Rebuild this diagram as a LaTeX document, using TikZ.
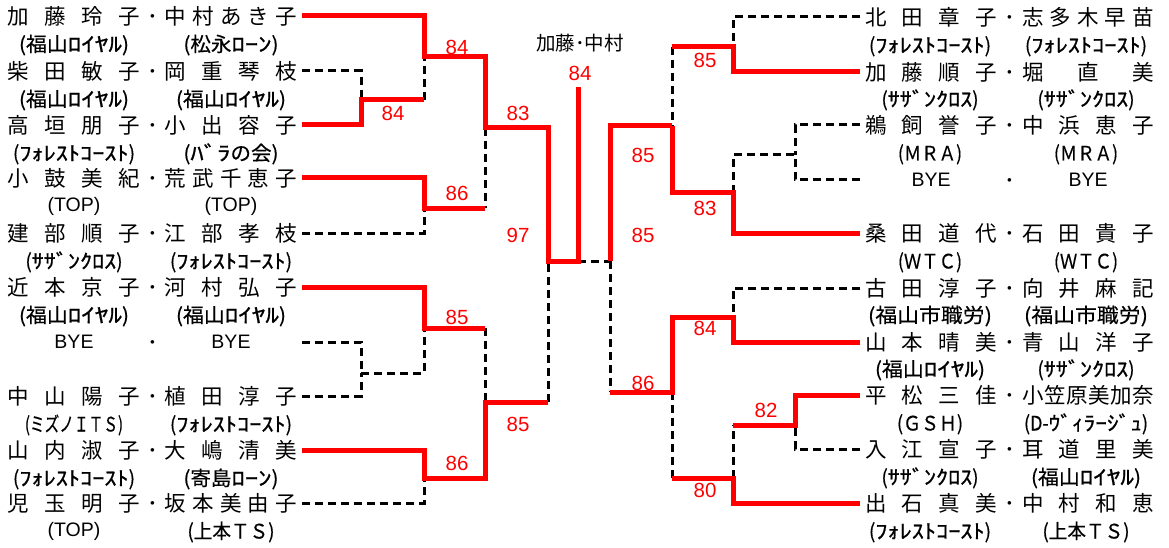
\documentclass[tikz,border=0pt]{standalone}
\usepackage{fontspec}
\usepackage{graphicx}
\setmainfont{Liberation Sans}
\newfontfamily\jpfont{Noto Sans CJK JP}
\newfontfamily\hkfont[FakeStretch=1.3, FakeBold=1.0]{Noto Sans CJK JP}
\newfontfamily\affjp[FakeBold=0.4]{Noto Sans CJK JP}
\newcommand\namefont{\jpfont\fontsize{21.5}{24}\selectfont}
\newcommand\affont{\affjp\fontsize{20}{22}\selectfont}
\newcommand\latfont{\normalfont\fontsize{19.5}{22}\selectfont}
\newcommand\scorefont{\normalfont\fontsize{20.5}{24}\selectfont}
\newcommand\hk[1]{{\hkfont #1}}
\newcommand\ndot{\makebox[25pt]{･}}
\newlength\fitlen
\newcommand\fitto[2]{\settowidth\fitlen{#2}\pgfmathsetmacro\fitfac{#1/\fitlen}\scalebox{\fitfac}[1]{#2}}
\makeatletter
\newcommand\spreadtext[2]{\makebox[#1][s]{\spr@first#2\relax}}
\def\spr@first#1{#1\spr@loop}
\def\spr@loop#1{\ifx\relax#1\else\hfil#1\expandafter\spr@loop\fi}
\makeatother
\newcommand\pairtext[2]{\spreadtext{132pt}{#1}\ndot\spreadtext{132pt}{#2}}
\newcommand\byebox{\makebox[132pt]{\latfont\raisebox{1.4pt}{BYE}}}
\newcommand\affFY{\fitto{110}{(福山\hk{ﾛｲﾔﾙ})}}
\newcommand\affFC{\fitto{122}{(\hk{ﾌｫﾚｽﾄｺｰｽﾄ})}}
\newcommand\affSC{\fitto{97}{(\hk{ｻｻﾞﾝｸﾛｽ})}}
\newcommand\affUT{\fitto{87}{(上本ＴＳ)}}
\newcommand\affFS{\fitto{124}{(福山市職労)}}
\begin{document}
\begin{tikzpicture}[x=1pt,y=-1pt,
  redline/.style={draw=red, line width=5pt},
  dashline/.style={draw=black, line width=3pt, dash pattern=on 8pt off 5pt},
  pair/.style={inner sep=0pt, outer xsep=5pt, text height=16.4pt, text depth=0pt, font=\namefont},
  aff/.style={inner sep=0pt, text height=15pt, text depth=0pt, font=\affont},
  lataff/.style={inner sep=0pt, font=\latfont},
  score/.style={inner sep=0pt, text=red, font=\scorefont}]
\useasboundingbox (0,0) rectangle (1169,548);
\fill[white] (0,0) rectangle (1169,548);

% ---------- left players ----------
\node[pair, anchor=east] (L1) at (302,16) {\pairtext{加藤玲子}{中村あき子}};
\node[aff] (L1a) at (74,44) {\affFY};
\node[aff] (L1b) at (231,44) {\fitto{95}{(松永\hk{ﾛｰﾝ})}};
\node[pair, anchor=east] (L2) at (302,71) {\pairtext{柴田敏子}{岡重琴枝}};
\node[aff] (L2a) at (74,99) {\affFY};
\node[aff] (L2b) at (231,99) {\affFY};
\node[pair, anchor=east] (L3) at (302,125) {\pairtext{高垣朋子}{小出容子}};
\node[aff] (L3a) at (74,153) {\affFC};
\node[aff] (L3b) at (231,153) {\fitto{95}{(\hk{ﾊﾞﾗ}の会)}};
\node[pair, anchor=east] (L4) at (302,178) {\pairtext{小鼓美紀}{荒武千恵子}};
\node[lataff] (L4a) at (74,206) {(TOP)};
\node[lataff] (L4b) at (231,206) {(TOP)};
\node[pair, anchor=east] (L5) at (302,233) {\pairtext{建部順子}{江部孝枝}};
\node[aff] (L5a) at (74,261) {\affSC};
\node[aff] (L5b) at (231,261) {\affFC};
\node[pair, anchor=east] (L6) at (302,287) {\pairtext{近本京子}{河村弘子}};
\node[aff] (L6a) at (74,315) {\affFY};
\node[aff] (L6b) at (231,315) {\affFY};
\node[pair, anchor=east] (L7) at (302,342) {\byebox\ndot\byebox};
\node[pair, anchor=east] (L8) at (302,396) {\pairtext{中山陽子}{植田淳子}};
\node[aff] (L8a) at (74,424) {\fitto{98}{(ミズノＩＴＳ)}};
\node[aff] (L8b) at (231,424) {\affFC};
\node[pair, anchor=east] (L9) at (302,450) {\pairtext{山内淑子}{大嶋清美}};
\node[aff] (L9a) at (74,478) {\affFC};
\node[aff] (L9b) at (231,478) {\fitto{95}{(寄島\hk{ﾛｰﾝ})}};
\node[pair, anchor=east] (L10) at (302,503) {\pairtext{児玉明子}{坂本美由子}};
\node[lataff] (L10a) at (74,531) {(TOP)};
\node[aff] (L10b) at (231,531) {\affUT};

% ---------- right players ----------
\node[pair, anchor=west] (R1) at (860,17) {\pairtext{北田章子}{志多木早苗}};
\node[aff] (R1a) at (930,45) {\affFC};
\node[aff] (R1b) at (1086,45) {\affFC};
\node[pair, anchor=west] (R2) at (860,72) {\pairtext{加藤順子}{堀直美}};
\node[aff] (R2a) at (930,99) {\affSC};
\node[aff] (R2b) at (1086,99) {\affSC};
\node[pair, anchor=west] (R3) at (860,125) {\pairtext{鵜飼誉子}{中浜恵子}};
\node[aff] (R3a) at (930,153) {\fitto{64}{(ＭＲＡ)}};
\node[aff] (R3b) at (1086,153) {\fitto{64}{(ＭＲＡ)}};
\node[pair, anchor=west] (R4) at (860,180) {\byebox\ndot\byebox};
\node[pair, anchor=west] (R5) at (860,233) {\pairtext{桑田道代}{石田貴子}};
\node[aff] (R5a) at (930,261) {\fitto{64}{(ＷＴＣ)}};
\node[aff] (R5b) at (1086,261) {\fitto{64}{(ＷＴＣ)}};
\node[pair, anchor=west] (R6) at (860,288) {\pairtext{古田淳子}{向井麻記}};
\node[aff] (R6a) at (930,315) {\affFS};
\node[aff] (R6b) at (1086,315) {\affFS};
\node[pair, anchor=west] (R7) at (860,342) {\pairtext{山本晴美}{青山洋子}};
\node[aff] (R7a) at (930,369) {\affFY};
\node[aff] (R7b) at (1086,369) {\affSC};
\node[pair, anchor=west] (R8) at (860,395) {\pairtext{平松三佳}{小笠原美加奈}};
\node[aff] (R8a) at (930,423) {\fitto{66}{(ＧＳＨ)}};
\node[aff] (R8b) at (1086,423) {\fitto{124}{(D-\hk{ｳﾞｨﾗｰｼﾞｭ})}};
\node[pair, anchor=west] (R9) at (860,449) {\pairtext{入江宣子}{耳道里美}};
\node[aff] (R9a) at (930,477) {\affSC};
\node[aff] (R9b) at (1086,477) {\affFY};
\node[pair, anchor=west] (R10) at (860,503) {\pairtext{出石真美}{中村和恵}};
\node[aff] (R10a) at (930,531) {\affFC};
\node[aff] (R10b) at (1086,531) {\affUT};

% ---------- winner ----------
\node[inner sep=0pt, font=\jpfont\fontsize{19.5}{22}\selectfont] (W) at (580,43) {加藤･中村};

% ---------- junctions ----------
\coordinate (m1) at (361,100);
\coordinate (m2) at (424,57);
\coordinate (m3) at (424,208);
\coordinate (m4) at (485,128);
\coordinate (m5) at (548,261);
\coordinate (m6) at (361,373);
\coordinate (m7) at (424,328);
\coordinate (m8) at (424,478);
\coordinate (m9) at (485,402);
\coordinate (f) at (578,87);
\coordinate (n1) at (733,47);
\coordinate (n2) at (795,155);
\coordinate (n3) at (733,193);
\coordinate (n4) at (672,126);
\coordinate (n5) at (733,317);
\coordinate (n6) at (795,425);
\coordinate (n7) at (733,478);
\coordinate (n8) at (672,392);
\coordinate (n9) at (610,261);

% ---------- dashed (losers) ----------
\draw[dashline] (L2.east) -| (m1);
\draw[dashline] (m1 -| m2) -- (m2);
\draw[dashline] (m4) -- (m4 |- m3);
\draw[dashline] (L5.east) -| (m3);
\draw[dashline] (L7.east) -| (m6);
\draw[dashline] (L8.east) -| (m6);
\draw[dashline] (m6) -- (m6 -| m7) -- (m7);
\draw[dashline] (m7 -| m9) -- (m9);
\draw[dashline] (m9 -| m5) -- (m5);
\draw[dashline] (L10.east) -| (m8);
\draw[dashline] (m5 -| f) -- (n9);
\draw[dashline] (R1.west) -| (n1);
\draw[dashline] (n1 -| n4) -- (n4);
\draw[dashline] (n3) -- (n3 |- n2) -- (n2);
\draw[dashline] (R3.west) -| (n2);
\draw[dashline] (R4.west) -| (n2);
\draw[dashline] (n9) -- (n9 |- n8);
\draw[dashline] (R6.west) -| (n5);
\draw[dashline] (n8) -- (n8 |- n7);
\draw[dashline] (n7) -- (n7 |- n6);
\draw[dashline] (R9.west) -| (n6);

% ---------- red (winners) ----------
\draw[redline] (L3.east) -| (m1) -- (m1 -| m2);
\draw[redline] (L1.east) -| (m2) -- (m2 -| m4) -- (m4) -- (m4 -| m5) -- (m5) -- (m5 -| f) -- (f);
\draw[redline] (L4.east) -| (m3) -- (m4 |- m3);
\draw[redline] (L6.east) -| (m7) -- (m7 -| m9);
\draw[redline] (L9.east) -| (m8) -- (m8 -| m9) -- (m9) -- (m9 -| m5);
\draw[redline] (n9) -- (n9 |- n4) -- (n4);
\draw[redline] (R2.west) -| (n1) -- (n1 -| n4);
\draw[redline] (n4) -- (n4 |- n3) -- (n3) |- (R5.west);
\draw[redline] (n9 |- n8) -- (n8) -- (n8 |- n5) -- (n5) |- (R7.west);
\draw[redline] (n8 |- n7) -- (n7) |- (R10.west);
\draw[redline] (n7 |- n6) -- (n6) |- (R8.west);

% ---------- scores ----------
\node[score] (s1) at (457,47) {84};
\node[score] (s2) at (393,113) {84};
\node[score] (s3) at (518,113) {83};
\node[score] (s4) at (457,193) {86};
\node[score] (s5) at (518,235) {97};
\node[score] (s6) at (580,73) {84};
\node[score] (s7) at (457,317) {85};
\node[score] (s8) at (518,424) {85};
\node[score] (s9) at (457,463) {86};
\node[score] (s10) at (705,60) {85};
\node[score] (s11) at (643,155) {85};
\node[score] (s12) at (643,235) {85};
\node[score] (s13) at (705,208) {83};
\node[score] (s14) at (705,328) {84};
\node[score] (s15) at (643,383) {86};
\node[score] (s16) at (766,410) {82};
\node[score] (s17) at (705,490) {80};
\end{tikzpicture}
\end{document}
